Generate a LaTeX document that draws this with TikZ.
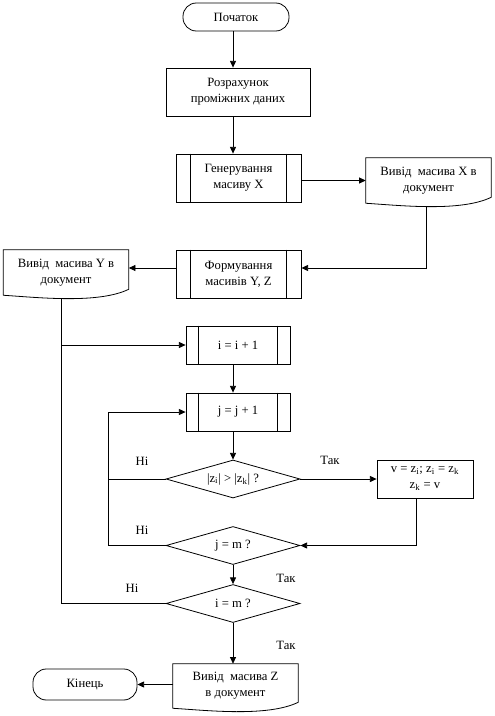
\documentclass[tikz,border=0pt]{standalone}
\usepackage{fontspec}
\setmainfont{Liberation Serif}
\usetikzlibrary{arrows.meta,calc,shapes.geometric}

\begin{document}
\begin{tikzpicture}[
  x=0.75pt,y=-0.75pt,
  every node/.style={font=\fontsize{9.5}{12}\selectfont},
  term/.style={draw,line width=0.6pt,rounded corners=10pt,minimum width=#1,minimum height=21pt,inner sep=1pt},
  box/.style={draw,line width=0.6pt,minimum width=#1,minimum height=36pt,align=center,inner sep=1pt},
  proc/.style={box=#1,minimum height=28.5pt},
  doc/.style={minimum width=93.75pt,minimum height=33.75pt,align=center,inner sep=1pt},
  cond/.style={diamond,draw,line width=0.6pt,aspect=3.5,minimum width=100.5pt,minimum height=28.5pt,inner sep=0pt},
  flow/.style={-{Triangle[length=5pt,width=4.5pt]},line width=0.6pt},
  line/.style={line width=0.6pt}
]
  \useasboundingbox (0,0) rectangle (494,716);
  \coordinate (axis) at (233,0);

  \node[term=79.5pt] (start) at (236,17) {Початок};
  \node[box=108pt] (calc) at (238,92) {Розрахунок\\проміжних даних};
  \node[box=93.75pt] (gen) at (238.5,178) {Генерування\\масиву X};
  \node[doc] (docx) at (428.5,180.5) {Вивід~ масива X в\\документ};
  \node[box=93.75pt] (form) at (238.5,274) {Формування\\масивів Y, Z};
  \node[doc] (docy) at (66,272.5) {Вивід~ масива Y в\\документ};
  \node[proc=78pt] (inci) at (238,345) {i = i + 1};
  \node[proc=78pt] (incj) at (238,412) {j = j + 1};
  \node[cond] (dcmp) at (233,479) {|z\textsubscript{i}| > |z\textsubscript{k}| ?};
  \node[proc=72pt,align=center] (swap) at (425,479)
    {v = z\textsubscript{i}; z\textsubscript{i} = z\textsubscript{k}\\z\textsubscript{k} = v};
  \node[cond] (dimj) at (233,545.5) {j = m ?};
  \node[cond] (dimi) at (233,603.5) {i = m ?};
  \node[doc,minimum height=33pt] (docz) at (235.5,686) {Вивід~ масива Z\\в документ};
  \node[term=78pt,minimum height=23.25pt] (end) at (85,684.5) {Кінець};

  % frames of the predefined processes
  \foreach \n/\d in {gen/11.25pt,form/11.25pt,inci/9.5pt,incj/9.5pt}
    \draw[line] ([xshift=\d]\n.north west) -- ([xshift=\d]\n.south west)
      ([xshift=-\d]\n.north east) -- ([xshift=-\d]\n.south east);

  % document shapes with wavy bottom
  \foreach \n in {docx,docy,docz}
    \draw[line] (\n.south west) -- (\n.north west) -- (\n.north east)
      -- ($(\n.south east)+(0,-6)$)
      .. controls ($(\n.south east)+(-31,9)$) and ($(\n.south west)+(33,2)$) .. (\n.south west);

  \coordinate (ytop) at ($(docy.south)+(-5,3)$);
  \coordinate (jloop) at (108,0);

  \draw[flow] (start.south -| axis) -- (calc.north -| axis);
  \draw[flow] (calc.south -| axis) -- (gen.north -| axis);
  \draw[flow] (gen.east |- docx.west) -- (docx.west);
  \draw[flow] ($(docx.south)+(-2.5,3.5)$) |- ([yshift=4.5pt]form.east);
  \draw[flow] ([yshift=4.5pt]form.west) -- ([yshift=4.5pt]form.west -| docy.east);
  \draw[line] (ytop) -- (ytop |- inci.west);
  \draw[flow] (dimi.west) -| (ytop |- inci.west) -- (inci.west);
  \draw[flow] (inci.south -| axis) -- (incj.north -| axis);
  \draw[flow] (incj.south -| axis) -- (dcmp.north);
  \draw[flow] (dcmp.west) -| (jloop |- incj.west) -- (incj.west);
  \draw[line] (dimj.west) -| (jloop |- dcmp.west);
  \draw[flow] (dcmp.east) -- (swap.west);
  \draw[flow] ([xshift=-6.75pt]swap.south) |- (dimj.east);
  \draw[flow] (dimj.south) -- (dimi.north);
  \draw[flow] (dimi.south) -- (docz.north -| axis);
  \draw[flow] (docz.west |- end.east) -- (end.east);

  \node (no1) at (142,461) {Ні};
  \node (yes1) at (330,460) {Так};
  \node (no2) at (142,530) {Ні};
  \node (yes2) at (286,578) {Так};
  \node (no3) at (132,588) {Ні};
  \node (yes3) at (286,645) {Так};
\end{tikzpicture}
\end{document}
